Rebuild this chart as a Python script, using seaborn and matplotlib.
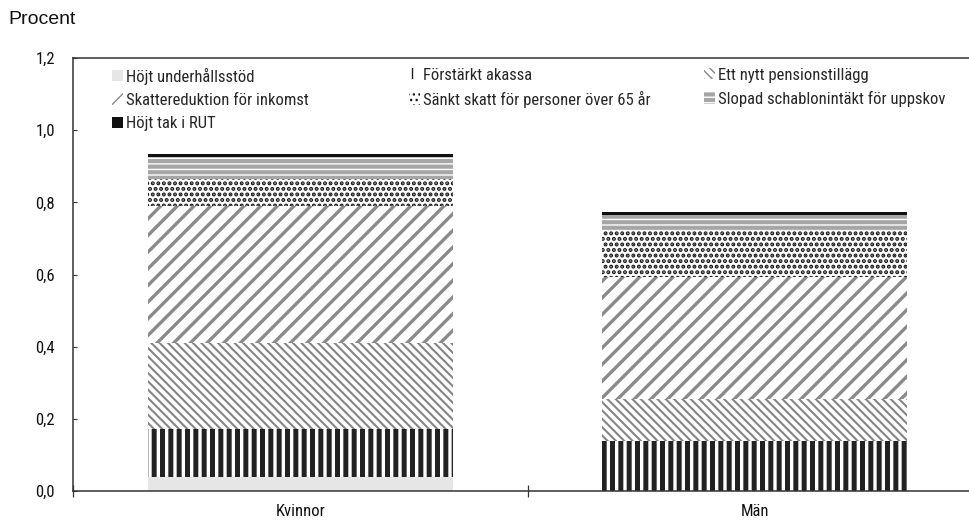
import matplotlib
matplotlib.use("Agg")
import numpy as np
import pandas as pd
import matplotlib.pyplot as plt
import seaborn as sns
from matplotlib.patches import Patch

# --- data -------------------------------------------------------------
groups = ["Kvinnor", "Män"]
reforms = [
    "Höjt underhållsstöd",
    "Förstärkt akassa",
    "Ett nytt pensionstillägg",
    "Skattereduktion för inkomst",
    "Sänkt skatt för personer över 65 år",
    "Slopad schablonintäkt för uppskov",
    "Höjt tak i RUT",
]
underhallsstod = [0.039, 0.0]
akassa = [0.133, 0.139]
pensionstillagg = [0.239, 0.117]
skattereduktion = [0.378, 0.338]
sankt_skatt_65 = [0.075, 0.126]
slopad_schablon = [0.063, 0.046]
rut_tak = [0.006, 0.006]
ytick_values = [0.0, 0.2, 0.4, 0.6, 0.8, 1.0, 1.2]
ytick_labels = ["0,0", "0,2", "0,4", "0,6", "0,8", "1,0", "1,2"]

series = [underhallsstod, akassa, pensionstillagg, skattereduktion,
          sankt_skatt_65, slopad_schablon, rut_tak]

# fill style per reform: face colour, hatch, hatch colour, hatch line width
styles = {
    "Höjt underhållsstöd": ("#e6e6e6", None, "#e6e6e6", 1.0),
    "Förstärkt akassa": ("#ffffff", "||", "#222222", 3.6),
    "Ett nytt pensionstillägg": ("#ffffff", "\\\\\\\\", "#858585", 1.5),
    "Skattereduktion för inkomst": ("#ffffff", "//", "#8a8a8a", 2.4),
    "Sänkt skatt för personer över 65 år": ("#ffffff", "...", "#1a1a1a", 2.0),
    "Slopad schablonintäkt för uppskov": ("#a6a6a6", "---", "#ffffff", 1.0),
    "Höjt tak i RUT": ("#111111", None, "#111111", 1.0),
}

# --- figure -----------------------------------------------------------
sns.set_theme(style="white")
narrow = ["Liberation Sans Narrow", "DejaVu Sans Condensed", "Roboto Condensed",
          "Open Sans Condensed", "Liberation Sans", "DejaVu Sans"]
plt.rcParams["font.family"] = narrow
plt.rcParams["font.stretch"] = "condensed"

fig = plt.figure(figsize=(9.69, 5.20), dpi=100)
ax = fig.add_axes([73 / 969, 29 / 520, 909 / 969, 433 / 520])

df = pd.DataFrame({"grupp": groups})
for name, vals in zip(reforms, series):
    df[name] = vals
cum = df[reforms].cumsum(axis=1)
cum["grupp"] = groups


def apply_hatch_lw(patch, lw):
    if hasattr(patch, "set_hatch_linewidth"):
        patch.set_hatch_linewidth(lw)


# stacked bars: draw cumulative totals from the top segment downwards
for name in reversed(reforms):
    face, hatch, hcol, hlw = styles[name]
    plt.rcParams["hatch.linewidth"] = hlw
    n_before = len(ax.patches)
    sns.barplot(data=cum, x="grupp", y=name, order=groups, color=face,
                saturation=1, width=0.67, errorbar=None, ax=ax,
                edgecolor=hcol, linewidth=0, hatch=hatch)
    for p in ax.patches[n_before:]:
        p.set_facecolor(face)
        apply_hatch_lw(p, hlw)

ax.set_xlim(-0.5, 1.5)
ax.set_ylim(0, 1.2)
ax.set_xlabel("")
ax.set_ylabel("")

# axes frame
for side in ["left", "bottom", "top"]:
    ax.spines[side].set_visible(True)
    ax.spines[side].set_color("#333333")
    ax.spines[side].set_linewidth(1.1)
ax.spines["right"].set_visible(False)

ax.set_yticks(ytick_values)
ax.set_yticklabels(ytick_labels)
ax.tick_params(axis="y", direction="in", length=3, width=0.8, color="#333333",
               pad=13, labelsize=12, labelcolor="#111111", left=True)
ax.set_xticks(range(len(groups)))
ax.set_xticklabels(groups)
ax.set_xticks([-0.5, 0.5, 1.5], minor=True)
ax.tick_params(axis="x", which="major", length=0, pad=9, labelsize=12,
               labelcolor="#111111")
ax.tick_params(axis="x", which="minor", direction="inout", length=9,
               width=0.9, color="#333333", bottom=True)

fig.text(8 / 969, 1 - 20 / 520, "Procent", fontsize=14,
         family=["Liberation Sans", "DejaVu Sans"], stretch="normal",
         va="center", ha="left", color="#111111")

# legend: three fixed-width columns
handles = {}
for name in reforms:
    face, hatch, hcol, hlw = styles[name]
    plt.rcParams["hatch.linewidth"] = hlw
    h = Patch(facecolor=face, edgecolor=hcol, hatch=hatch, linewidth=0)
    apply_hatch_lw(h, hlw)
    handles[name] = h

columns = [
    [reforms[0], reforms[3], reforms[6]],
    [reforms[1], reforms[4]],
    [reforms[2], reforms[5]],
]
col_x = [(112 - 73) / 909, (409 - 73) / 909, (704 - 73) / 909]
legends = []
for names, x in zip(columns, col_x):
    leg = ax.legend([handles[n] for n in names], names, loc="upper left",
                    bbox_to_anchor=(x, 0.978), frameon=False, fontsize=12,
                    handlelength=0.65, handleheight=0.65, handletextpad=0.2,
                    labelspacing=0.5, borderpad=0, borderaxespad=0)
    legends.append(leg)
for leg in legends[:-1]:
    ax.add_artist(leg)

fig.savefig("out.png", dpi=100, facecolor="white")
